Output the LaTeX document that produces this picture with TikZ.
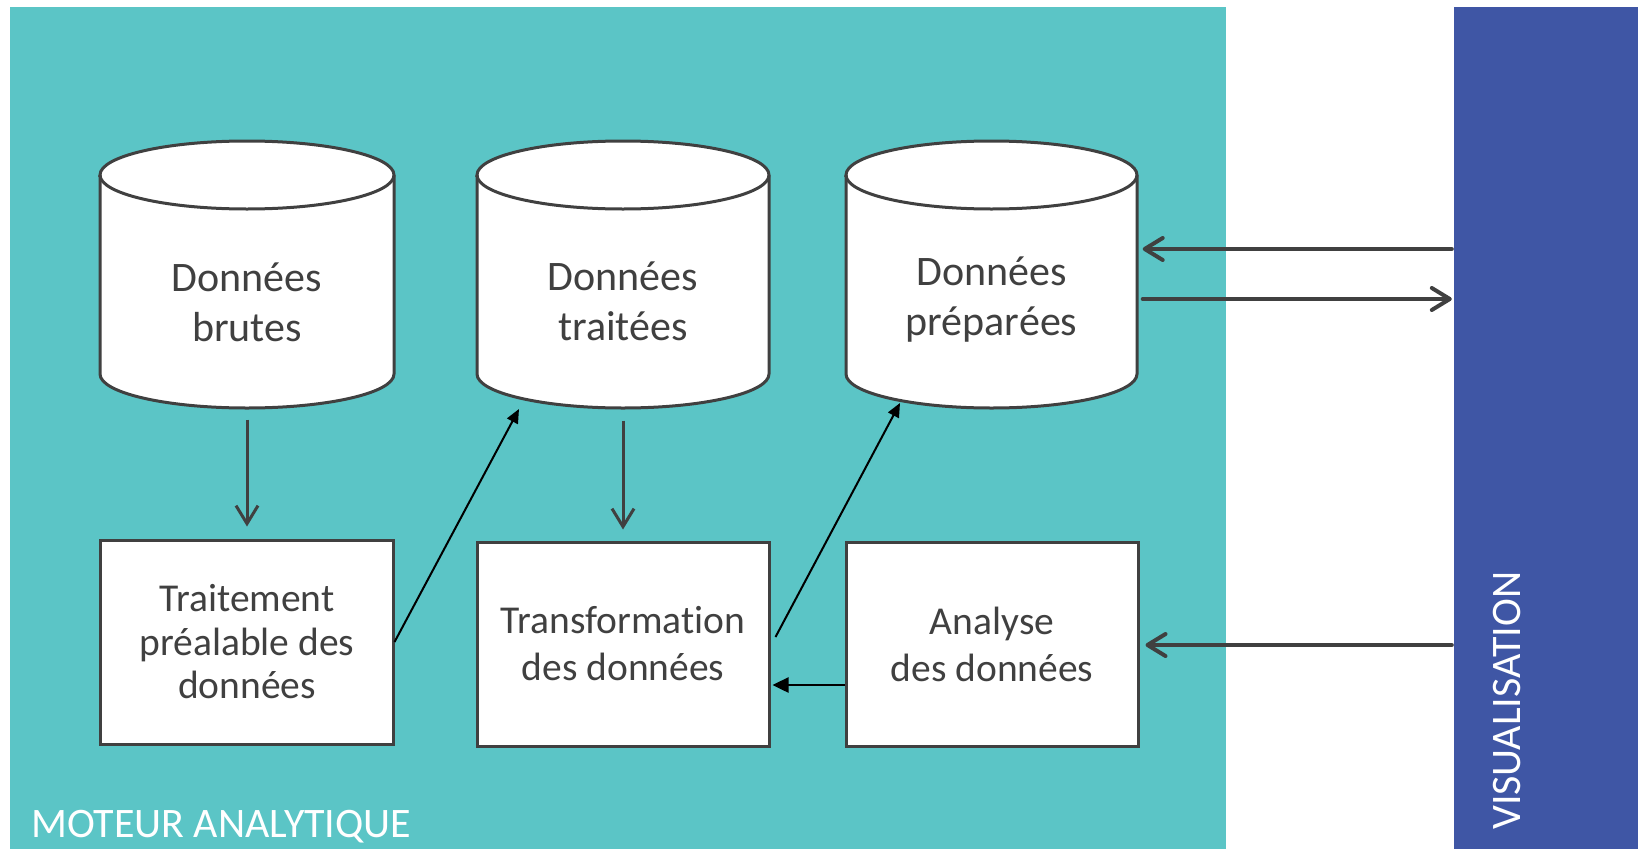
\documentclass[tikz,border=0pt]{standalone}
\usepackage{fontspec}
\setmainfont{Carlito}[Ligatures={NoCommon,NoRequired}]
\usetikzlibrary{arrows.meta}
\definecolor{panelteal}{HTML}{5BC5C6}
\definecolor{panelblue}{HTML}{3F56A5}
\definecolor{ink}{HTML}{404040}
\newcommand{\drawdb}[2]{%
  \filldraw[dbline] (#1-#2,175) -- (#1-#2,374)
    arc[start angle=180,end angle=360,x radius=#2bp,y radius=34bp]
    -- (#1+#2,175)
    arc[start angle=0,end angle=180,x radius=#2bp,y radius=34bp] -- cycle;
  \draw[dbline,fill=none] (#1-#2,175)
    arc[start angle=180,end angle=360,x radius=#2bp,y radius=34bp];
}
\tikzset{
  dbline/.style={draw=ink, line width=3bp, fill=white},
  dbtext/.style={minimum width=292bp, minimum height=199bp, inner sep=0,
    align=center, text=ink, font=\fontsize{42bp}{50bp}\selectfont},
  stepbox/.style={draw=ink, line width=3bp, fill=white, minimum width=292bp,
    minimum height=204bp, inner sep=0, align=center, text=ink,
    font=\fontsize{39.5bp}{43.5bp}\selectfont},
  widelines/.style={font=\fontsize{39.5bp}{47bp}\selectfont},
  paneltext/.style={text=white, inner sep=0, font=\fontsize{42bp}{50bp}\selectfont},
  downarr/.style={draw=ink, line width=3bp, -{Straight Barb[length=18bp,width=22bp]}},
  diagarr/.style={draw=black, line width=2bp, -{Triangle[length=14bp,width=12bp]}},
  flatarr/.style={draw=black, line width=2.5bp, -{Triangle[length=16bp,width=15bp]}},
  visarr/.style={draw=ink, line width=4bp, line cap=round,
    -{Straight Barb[round,length=18bp,width=22bp]}},
}
\begin{document}
\begin{tikzpicture}[x=1bp,y=-1bp]
\useasboundingbox (0,0) rectangle (1638,849);
\node[fill=panelteal, minimum width=1216bp, minimum height=842bp, inner sep=0, draw=none] (engine) at (618,428) {};
\node[fill=panelblue, minimum width=184bp, minimum height=842bp, inner sep=0, draw=none] (vis) at (1546,428) {};
\node[paneltext, anchor=base west] (enginelabel) at (31,837) {MOTEUR ANALYTIQUE};
\node[paneltext, rotate=90, anchor=base west] (vislabel) at (1520,830) {VISUALISATION};

\drawdb{247}{147}
\drawdb{623}{146}
\drawdb{991.5}{145.5}
\node[dbtext] (db1) at (247,302) {Données\\brutes};
\node[dbtext] (db2) at (623,301) {Données\\traitées};
\node[dbtext] (db3) at (991.5,300) {Données\\préparées};
\coordinate (db2foot) at (519,409);
\coordinate (db3foot) at (900,403);

\node[stepbox] (b1) at (247,642) {Traitement\\préalable des\\données};
\node[stepbox, widelines] (b2) at (623,644) {Transformation\\des données};
\node[stepbox, widelines] (b3) at (992,644) {Analyse\\des données};

\draw[downarr] ([yshift=-18bp]db1.south) -- ([yshift=12bp]b1.north);
\draw[downarr] ([yshift=-20bp]db2.south) -- ([yshift=11bp]b2.north);
\draw[diagarr] (b1.east) -- (db2foot);
\draw[diagarr] ([xshift=5bp,yshift=7bp]b2.east) -- (db3foot);
\draw[flatarr] ([yshift=-41bp]b3.west) -- ([xshift=2bp,yshift=-41bp]b2.east);

\coordinate (v1) at ([xshift=-2bp,yshift=179bp]vis.west);
\coordinate (v2) at ([xshift=-2bp,yshift=129bp]vis.west);
\coordinate (v3) at ([xshift=-2bp,yshift=-217bp]vis.west);
\draw[visarr, shorten >=5bp] (v1) -- (v1 -| db3.east);
\draw[visarr, shorten <=5bp] (v2 -| db3.east) -- (v2);
\draw[visarr, shorten >=6bp] (v3) -- (v3 -| b3.east);
\end{tikzpicture}
\end{document}
